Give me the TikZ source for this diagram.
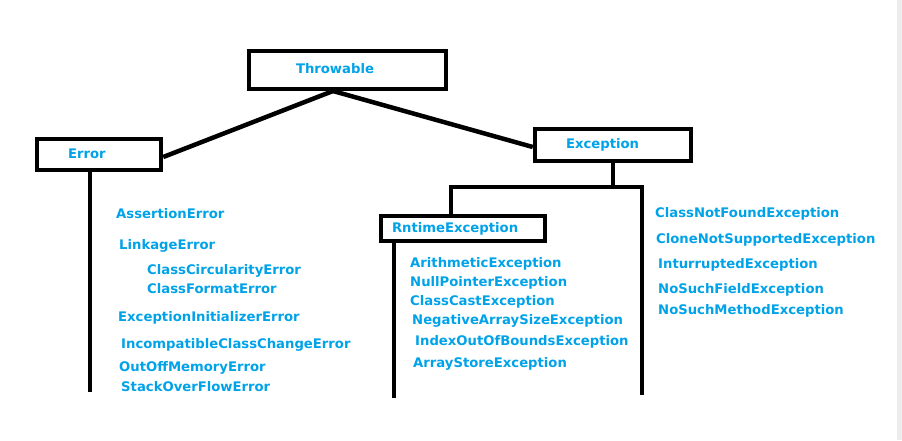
\documentclass[tikz,border=0pt]{standalone}
\usepackage{fontspec}
\setmainfont{DejaVu Sans}
\definecolor{paintblue}{RGB}{0,162,232}
\begin{document}
\begin{tikzpicture}[x=1pt,y=-1pt,
  txt/.style={font=\fontsize{13.2}{15}\selectfont\bfseries, text=paintblue},
  box/.style={txt, draw=black, line width=4.5pt, rectangle, inner xsep=0pt, inner ysep=0pt,
    align=left, text height=9.5pt, text depth=2.5pt},
  lbl/.style={txt, anchor=base west, inner sep=0pt},
  conn/.style={draw=black, line width=4.5pt, line join=miter}]
\useasboundingbox (0,0) rectangle (902,440);
\fill[white] (0,0) rectangle (902,440);
\fill[black!7] (897,0) rectangle (902,440);

% boxes
\node[box, text width=197pt, minimum height=38pt] (thr) at (347.5,70) {\hspace*{47pt}Throwable};
\node[box, text width=124pt, minimum height=31pt] (err) at (99,154.5) {\hspace*{31pt}Error};
\node[box, text width=156pt, minimum height=32pt] (exc) at (613,145) {\hspace*{31pt}Exception};
\node[box, text width=164pt, minimum height=25pt] (rt) at (463,228.5) {\hspace*{11pt}RntimeException};

% connector coordinates
\coordinate (top) at (333,91);
\coordinate (j) at (613,187);
\coordinate (jl) at (451,187);
\coordinate (jr) at (642,187);
\coordinate (rend) at (642,395);
\coordinate (rb) at (394,398);
\coordinate (eb) at (90,392);

% connectors
\draw[conn] (top) -- ([yshift=-2.5pt]err.east);
\draw[conn] (top) -- ([yshift=-2pt]exc.west);
\draw[conn] (exc.south) -- (j);
\draw[conn] (rt.north -| jl) -- (jl) -- (jr) -- (rend);
\draw[conn] (rb |- rt.south) -- (rb);
\draw[conn] (eb |- err.south) -- (eb);

% Error subclasses
\node[lbl] (e1) at (116,218) {AssertionError};
\node[lbl] (e2) at (119,249) {LinkageError};
\node[lbl] (e3) at (147,274) {ClassCircularityError};
\node[lbl] (e4) at (147,293) {ClassFormatError};
\node[lbl] (e5) at (118,321) {ExceptionInitializerError};
\node[lbl] (e6) at (121,348) {IncompatibleClassChangeError};
\node[lbl] (e7) at (119,371) {OutOffMemoryError};
\node[lbl] (e8) at (121,391) {StackOverFlowError};

% RuntimeException subclasses
\node[lbl] (r1) at (410,267) {ArithmeticException};
\node[lbl] (r2) at (410,286) {NullPointerException};
\node[lbl] (r3) at (410,305) {ClassCastException};
\node[lbl] (r4) at (412,324) {NegativeArraySizeException};
\node[lbl] (r5) at (415,345) {IndexOutOfBoundsException};
\node[lbl] (r6) at (413,367) {ArrayStoreException};

% checked exceptions
\node[lbl] (c1) at (655,217) {ClassNotFoundException};
\node[lbl] (c2) at (656,243) {CloneNotSupportedException};
\node[lbl] (c3) at (658,268) {InturruptedException};
\node[lbl] (c4) at (658,293) {NoSuchFieldException};
\node[lbl] (c5) at (658,314) {NoSuchMethodException};
\end{tikzpicture}
\end{document}
